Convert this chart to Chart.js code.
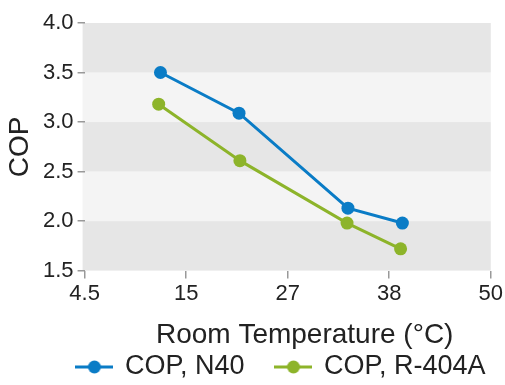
<!DOCTYPE html>
<html>
<head>
<meta charset="utf-8">
<script src="https://cdn.jsdelivr.net/npm/chart.js@4/dist/chart.umd.min.js"></script>
<style>
html,body{margin:0;padding:0;background:#fff;}
#wrap{width:505px;height:385px;}
</style>
</head>
<body>
<div id="wrap"><canvas id="c" width="505" height="385"></canvas></div>
<script>
// Data
const seriesNames = ["COP, N40", "COP, R-404A"];
const n40Temp = [13, 21.8, 34, 40.1];
const n40Cop = [3.50, 3.09, 2.13, 1.98];
const r404aTemp = [12.8, 21.9, 33.9, 39.9];
const r404aCop = [3.18, 2.61, 1.98, 1.72];
const xTickValues = [4.5, 15.875, 27.25, 38.625, 50];
const xTickLabels = ["4.5", "15", "27", "38", "50"];
const yTickValues = [1.5, 2.0, 2.5, 3.0, 3.5, 4.0];
const xTitle = "Room Temperature (°C)";
const yTitle = "COP";

const BLUE = '#0a7cc6';
const GREEN = '#8db42a';
const FONT = "'Liberation Sans', Arial, sans-serif";
const TXT = '#222';

function legendIcon(color){
  const cv = document.createElement('canvas');
  cv.width = 38; cv.height = 16;
  const c = cv.getContext('2d');
  c.strokeStyle = color; c.lineWidth = 3;
  c.beginPath(); c.moveTo(0, 8); c.lineTo(38, 8); c.stroke();
  c.fillStyle = color;
  c.beginPath(); c.arc(19, 8, 6.5, 0, Math.PI*2); c.fill();
  return cv;
}
const icons = [legendIcon(BLUE), legendIcon(GREEN)];

const bands = {
  id: 'bands',
  beforeDraw(chart){
    const {ctx, chartArea: a, scales: {y}} = chart;
    ctx.save();
    for (let i = 0; i < yTickValues.length - 1; i++){
      const y0 = y.getPixelForValue(yTickValues[i]);
      const y1 = y.getPixelForValue(yTickValues[i+1]);
      ctx.fillStyle = (i % 2 === 0) ? '#e6e6e6' : '#f4f4f4';
      ctx.fillRect(a.left - 2, y1, a.right - a.left + 2, y0 - y1);
    }
    ctx.restore();
  }
};

const shifter = {
  id: 'shifter',
  afterLayout(chart){
    const s = chart.scales.x;
    if (s && !s._shifted){
      const orig = s.drawTitle.bind(s);
      s.drawTitle = function(...args){
        const ctx = this.ctx; ctx.save(); ctx.translate(17, 0); orig(...args); ctx.restore();
      };
      s._shifted = true;
    }
    const lg = chart.legend;
    if (lg && !lg._shifted){
      const orig = lg.draw.bind(lg);
      lg.draw = function(...args){
        const l = this.left, r = this.right, t = this.top;
        this.left = l + 34; this.right = r + 34; this.top = t - 27.5;
        orig(...args);
        this.left = l; this.right = r; this.top = t;
      };
      lg._shifted = true;
    }
  }
};

new Chart(document.getElementById('c'), {
  type: 'line',
  data: {
    datasets: [
      {label: seriesNames[0], data: n40Temp.map((x,i)=>({x, y:n40Cop[i]})),
       borderColor: BLUE, backgroundColor: BLUE, borderWidth: 3, pointRadius: 6.5,
       pointBorderWidth: 0, tension: 0},
      {label: seriesNames[1], data: r404aTemp.map((x,i)=>({x, y:r404aCop[i]})),
       borderColor: GREEN, backgroundColor: GREEN, borderWidth: 3, pointRadius: 6.5,
       pointBorderWidth: 0, tension: 0}
    ]
  },
  options: {
    responsive: false,
    animation: false,
    devicePixelRatio: 1,
    layout: {padding: {top: 23, right: 12, left: 2, bottom: 0}},
    plugins: {
      tooltip: {enabled: false},
      legend: {
        position: 'bottom',
        maxHeight: 36,
        labels: {
          usePointStyle: true,
          pointStyleWidth: 34,
          color: TXT,
          font: {family: FONT, size: 27},
          padding: 32,
          generateLabels(chart){
            const items = Chart.defaults.plugins.legend.labels.generateLabels(chart);
            items.forEach((it, i) => { it.pointStyle = icons[i]; });
            return items;
          }
        }
      }
    },
    scales: {
      x: {
        type: 'linear',
        min: 4.5, max: 50,
        afterBuildTicks(scale){ scale.ticks = xTickValues.map(v => ({value: v})); },
        ticks: {
          color: TXT, font: {family: FONT, size: 22}, padding: 2,
          callback(v, i){ return xTickLabels[i]; }
        },
        grid: {display: true, drawOnChartArea: false, drawTicks: true, tickLength: 8, color: '#999', lineWidth: 1.5},
        border: {display: false},
        title: {display: true, text: xTitle, color: TXT, font: {family: FONT, size: 28, lineHeight: 1}, padding: {top: 12, bottom: 0}}
      },
      y: {
        min: 1.5, max: 4.0,
        afterBuildTicks(scale){ scale.ticks = yTickValues.map(v => ({value: v})); },
        ticks: {
          color: TXT, font: {family: FONT, size: 22}, padding: 4,
          callback(v){ return v.toFixed(1); }
        },
        grid: {display: true, drawOnChartArea: false, drawTicks: true, tickLength: 7, color: '#999', lineWidth: 1.5},
        border: {display: false},
        title: {display: true, text: yTitle, color: TXT, font: {family: FONT, size: 28, lineHeight: 1}, padding: {top: 4, bottom: 5}}
      }
    }
  },
  plugins: [bands, shifter]
});
</script>
</body>
</html>
